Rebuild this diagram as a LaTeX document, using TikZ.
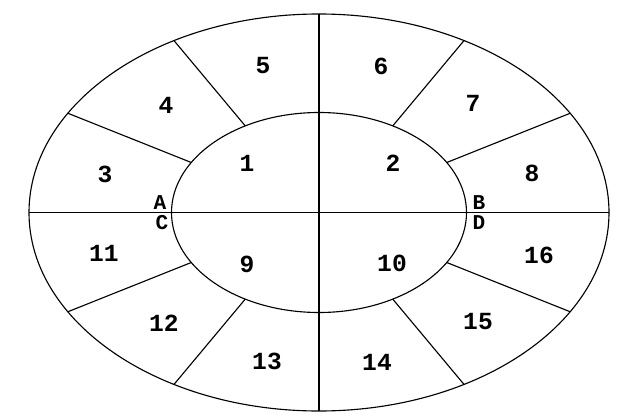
\documentclass[tikz,border=0pt]{standalone}
\usepackage{fontspec}
\setmonofont{Liberation Mono}
\usepackage{tikz}
\usetikzlibrary{calc}

\tikzset{
  seglabel/.style={font=\ttfamily\bfseries\fontsize{17.5}{17.5}\selectfont, inner sep=0pt},
  ptlabel/.style={font=\ttfamily\bfseries\fontsize{15}{15}\selectfont, inner sep=0pt},
  ring/.style={line width=0.8pt}
}

\begin{document}
\begin{tikzpicture}[x=0.025cm, y=-0.025cm]
            \useasboundingbox (0,0) rectangle (630,420);
            \coordinate (c) at (319,212.5);
            %
            \draw[ring] (c) ellipse [x radius=290, y radius=198.5];
            \draw[ring] (c) ellipse [x radius=147.5, y radius=100];
            %
            \foreach \a in {0,90,180,270} {
                \coordinate (o\a) at ($(c)+(\a:290 and 198.5)$);
            }
            \draw[ring] (o180) -- (o0);
            \draw[ring] (o90) -- (o270);
            %
            \foreach \a in {30,60,120,150,210,240,300,330} {
                \coordinate (i\a) at ($(c)+(\a:147.5 and 100)$);
                \coordinate (o\a) at ($(c)+(\a:290 and 198.5)$);
                \draw[ring] (i\a) -- (o\a);
            }
            %
            \node[seglabel] (s1) at (247,163) {1};
            \node[seglabel] (s2) at (393,163) {2};
            \node[seglabel] (s3) at (105,174) {3};
            \node[seglabel] (s4) at (166,105) {4};
            \node[seglabel] (s5) at (263,66) {5};
            \node[seglabel] (s6) at (381,66) {6};
            \node[seglabel] (s7) at (473,103) {7};
            \node[seglabel] (s8) at (532,173) {8};
            \node[seglabel] (s9) at (247,264) {9};
            \node[seglabel] (s10) at (392,263) {10};
            \node[seglabel] (s11) at (104,253) {11};
            \node[seglabel] (s12) at (164,323) {12};
            \node[seglabel] (s13) at (267,361) {13};
            \node[seglabel] (s14) at (377,362) {14};
            \node[seglabel] (s15) at (478,322) {15};
            \node[seglabel] (s16) at (539,255) {16};
            %
            \node[ptlabel] (pA) at (160,203) {A};
            \node[ptlabel] (pB) at (479,203) {B};
            \node[ptlabel] (pC) at (162,223) {C};
            \node[ptlabel] (pD) at (479,223) {D};
        \end{tikzpicture}
\end{document}
